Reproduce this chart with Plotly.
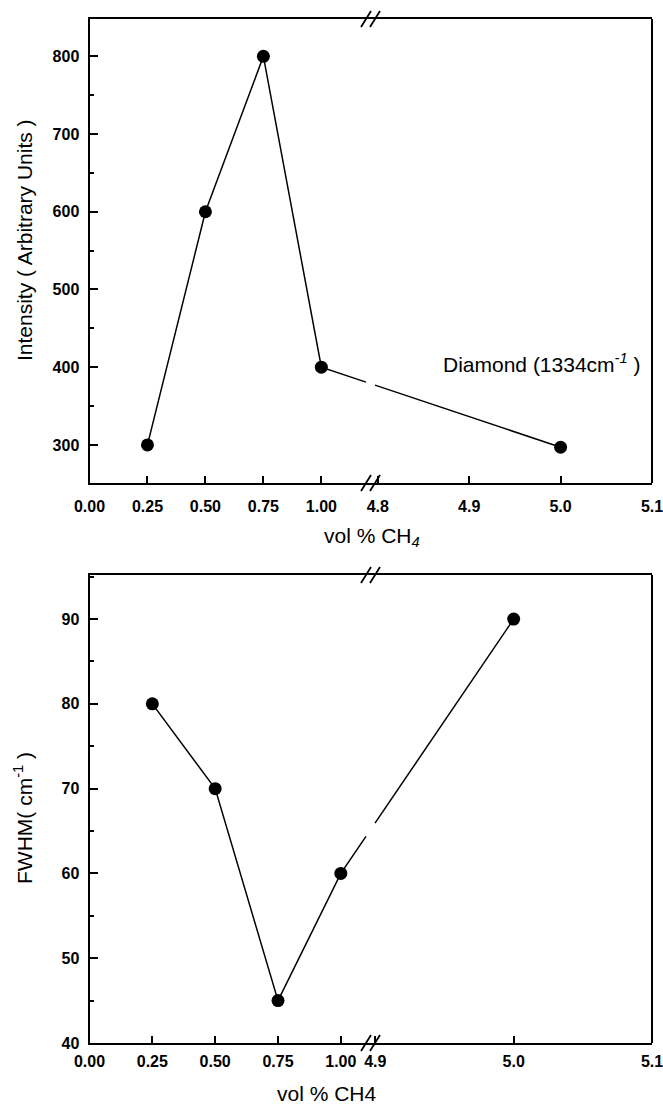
import plotly.graph_objects as go

# ---------------- data ----------------
ch4_left = [0.25, 0.50, 0.75, 1.00]
ch4_right = [5.0]
intensity_left = [300, 600, 800, 400]
intensity_right = [297]
fwhm_left = [80, 70, 45, 60]
fwhm_right = [90]

top_left_tickvals = [0.0, 0.25, 0.50, 0.75, 1.00]
top_left_ticktext = ["0.00", "0.25", "0.50", "0.75", "1.00"]
top_right_tickvals = [4.8, 4.9, 5.0, 5.1]
top_right_ticktext = ["4.8", "4.9", "5.0", "5.1"]
bot_left_tickvals = [0.0, 0.25, 0.50, 0.75, 1.00]
bot_left_ticktext = ["0.00", "0.25", "0.50", "0.75", "1.00"]
bot_right_tickvals = [4.9, 5.0, 5.1]
bot_right_ticktext = ["4.9", "5.0", "5.1"]
intensity_ticks = [300, 400, 500, 600, 700, 800]
fwhm_ticks = [40, 50, 60, 70, 80, 90]

# ---------------- layout geometry ----------------
W, H = 663, 1105
XL = [89.5 / W, 370.5 / W]
XR = [370.5 / W, 652 / W]
Y_TOP = [1 - 483 / H, 1 - 19 / H]
Y_BOT = [1 - 1043 / H, 1 - 575 / H]

TOP_XL_RANGE = [-1e-6, 1.212]
TOP_XR_RANGE = [4.792, 5.1 + 1e-6]
TOP_Y_RANGE = [251, 848]
BOT_XL_RANGE = [-1e-6, 1.118]
BOT_XR_RANGE = [4.8965, 5.1 + 1e-6]
BOT_Y_RANGE = [40 - 1e-6, 95.2]

FONT = "Liberation Sans, Arial, sans-serif"


def bridge(x1, y1, x2, y2, dl, dr, rl, rr, gap_px=9):
    """Split the connecting segment across the axis break (with a small gap)."""
    pxl = dl[0] + (x1 - rl[0]) / (rl[1] - rl[0]) * (dl[1] - dl[0])
    pxr = dr[0] + (x2 - rr[0]) / (rr[1] - rr[0]) * (dr[1] - dr[0])
    b = dl[1]
    g = gap_px / 2 / W
    xa, xb = b - g, b + g
    ta = (xa - pxl) / (pxr - pxl)
    tb = (xb - pxl) / (pxr - pxl)
    ya = y1 + ta * (y2 - y1)
    yb = y1 + tb * (y2 - y1)
    xa_val = rl[0] + (xa - dl[0]) / (dl[1] - dl[0]) * (rl[1] - rl[0])
    xb_val = rr[0] + (xb - dr[0]) / (dr[1] - dr[0]) * (rr[1] - rr[0])
    return xa_val, ya, xb_val, yb


fig = go.Figure()
LINE = dict(color="black", width=1.5)
MARK = dict(color="black", size=13)

# top panel
xa, ya, xb, yb = bridge(ch4_left[-1], intensity_left[-1], ch4_right[0], intensity_right[0],
                        XL, XR, TOP_XL_RANGE, TOP_XR_RANGE)
fig.add_trace(go.Scatter(x=ch4_left + [xa], y=intensity_left + [ya], mode="lines",
                         line=LINE, xaxis="x", yaxis="y", showlegend=False))
fig.add_trace(go.Scatter(x=[xb] + ch4_right, y=[yb] + intensity_right, mode="lines",
                         line=LINE, xaxis="x2", yaxis="y", showlegend=False))
fig.add_trace(go.Scatter(x=ch4_left, y=intensity_left, mode="markers", marker=MARK,
                         xaxis="x", yaxis="y", showlegend=False))
fig.add_trace(go.Scatter(x=ch4_right, y=intensity_right, mode="markers", marker=MARK,
                         xaxis="x2", yaxis="y", showlegend=False))

# bottom panel
xa, ya, xb, yb = bridge(ch4_left[-1], fwhm_left[-1], ch4_right[0], fwhm_right[0],
                        XL, XR, BOT_XL_RANGE, BOT_XR_RANGE)
fig.add_trace(go.Scatter(x=ch4_left + [xa], y=fwhm_left + [ya], mode="lines",
                         line=LINE, xaxis="x3", yaxis="y2", showlegend=False))
fig.add_trace(go.Scatter(x=[xb] + ch4_right, y=[yb] + fwhm_right, mode="lines",
                         line=LINE, xaxis="x4", yaxis="y2", showlegend=False))
fig.add_trace(go.Scatter(x=ch4_left, y=fwhm_left, mode="markers", marker=MARK,
                         xaxis="x3", yaxis="y2", showlegend=False))
fig.add_trace(go.Scatter(x=ch4_right, y=fwhm_right, mode="markers", marker=MARK,
                         xaxis="x4", yaxis="y2", showlegend=False))

TICKFONT = dict(family=FONT, size=16, color="black", weight="bold")


def xax(domain, rng, tv, tt, anchor, standoff):
    return dict(domain=domain, range=rng, anchor=anchor, showgrid=False, zeroline=False,
                automargin=False, ticklabeloverflow="allow",
                showline=True, linecolor="black", linewidth=2, mirror=True,
                ticks="inside", ticklen=7, tickwidth=1.5, tickcolor="black",
                tickvals=tv, ticktext=tt, tickfont=TICKFONT, ticklabelstandoff=standoff)


def yax(domain, rng, tv, minor_dtick, anchor):
    return dict(domain=domain, range=rng, anchor=anchor, showgrid=False, zeroline=False,
                automargin=False, ticklabeloverflow="allow",
                showline=True, linecolor="black", linewidth=2,
                ticks="inside", ticklen=8, tickwidth=1.5, tickcolor="black",
                tickvals=tv, tickfont=TICKFONT, ticklabelstandoff=5,
                minor=dict(ticks="inside", ticklen=4, tickwidth=1.5, tickcolor="black",
                           dtick=minor_dtick, tick0=0, showgrid=False))


shapes = []
# right borders
for xref, yref in [("x2 domain", "y domain"), ("x4 domain", "y2 domain")]:
    shapes.append(dict(type="line", xref=xref, yref=yref, x0=1, x1=1, y0=0, y1=1,
                       line=dict(color="black", width=2)))
# break marks "//"
bx = XL[1]
for yy in [Y_TOP[0], Y_TOP[1], Y_BOT[0], Y_BOT[1]]:
    for off in (-4.5, 4.5):
        cx = bx + off / W
        shapes.append(dict(type="line", xref="paper", yref="paper",
                           x0=cx - 5 / W, x1=cx + 5 / W, y0=yy - 8 / H, y1=yy + 8 / H,
                           line=dict(color="black", width=1.8)))

TITLEFONT = dict(family=FONT, size=21, color="black")
annotations = [
    dict(text="vol % CH<sub><i>4</i></sub>", x=372 / W, y=1 - 537 / H, xref="paper", yref="paper",
         showarrow=False, font=TITLEFONT, xanchor="center", yanchor="middle"),
    dict(text="vol % CH4", x=327 / W, y=1 - 1093 / H, xref="paper", yref="paper",
         showarrow=False, font=TITLEFONT, xanchor="center", yanchor="middle"),
    dict(text="Intensity ( Arbitrary Units )", x=24 / W, y=1 - 240 / H, xref="paper", yref="paper",
         showarrow=False, font=TITLEFONT, textangle=-90, xanchor="center", yanchor="middle"),
    dict(text="FWHM( cm<sup>-1</sup> )", x=23 / W, y=1 - 818 / H, xref="paper", yref="paper",
         showarrow=False, font=TITLEFONT, textangle=-90, xanchor="center", yanchor="middle"),
    dict(text="Diamond (1334cm<sup><i>-1</i></sup> )", x=441 / W, y=1 - 363 / H, xref="paper", yref="paper",
         showarrow=False, font=TITLEFONT, xanchor="left", yanchor="middle"),
]

fig.update_layout(
    width=W, height=H, margin=dict(l=0, r=0, t=0, b=0),
    paper_bgcolor="white", plot_bgcolor="white",
    font=dict(family=FONT, color="black"),
    xaxis=xax(XL, TOP_XL_RANGE, top_left_tickvals, top_left_ticktext, "y", 8),
    xaxis2=xax(XR, TOP_XR_RANGE, top_right_tickvals, top_right_ticktext, "y", 8),
    xaxis3=xax(XL, BOT_XL_RANGE, bot_left_tickvals, bot_left_ticktext, "y2", 3),
    xaxis4=xax(XR, BOT_XR_RANGE, bot_right_tickvals, bot_right_ticktext, "y2", 3),
    yaxis=yax(Y_TOP, TOP_Y_RANGE, intensity_ticks, 50, "x"),
    yaxis2=yax(Y_BOT, BOT_Y_RANGE, fwhm_ticks, 5, "x3"),
    shapes=shapes, annotations=annotations,
)

fig.write_html("out.html")
